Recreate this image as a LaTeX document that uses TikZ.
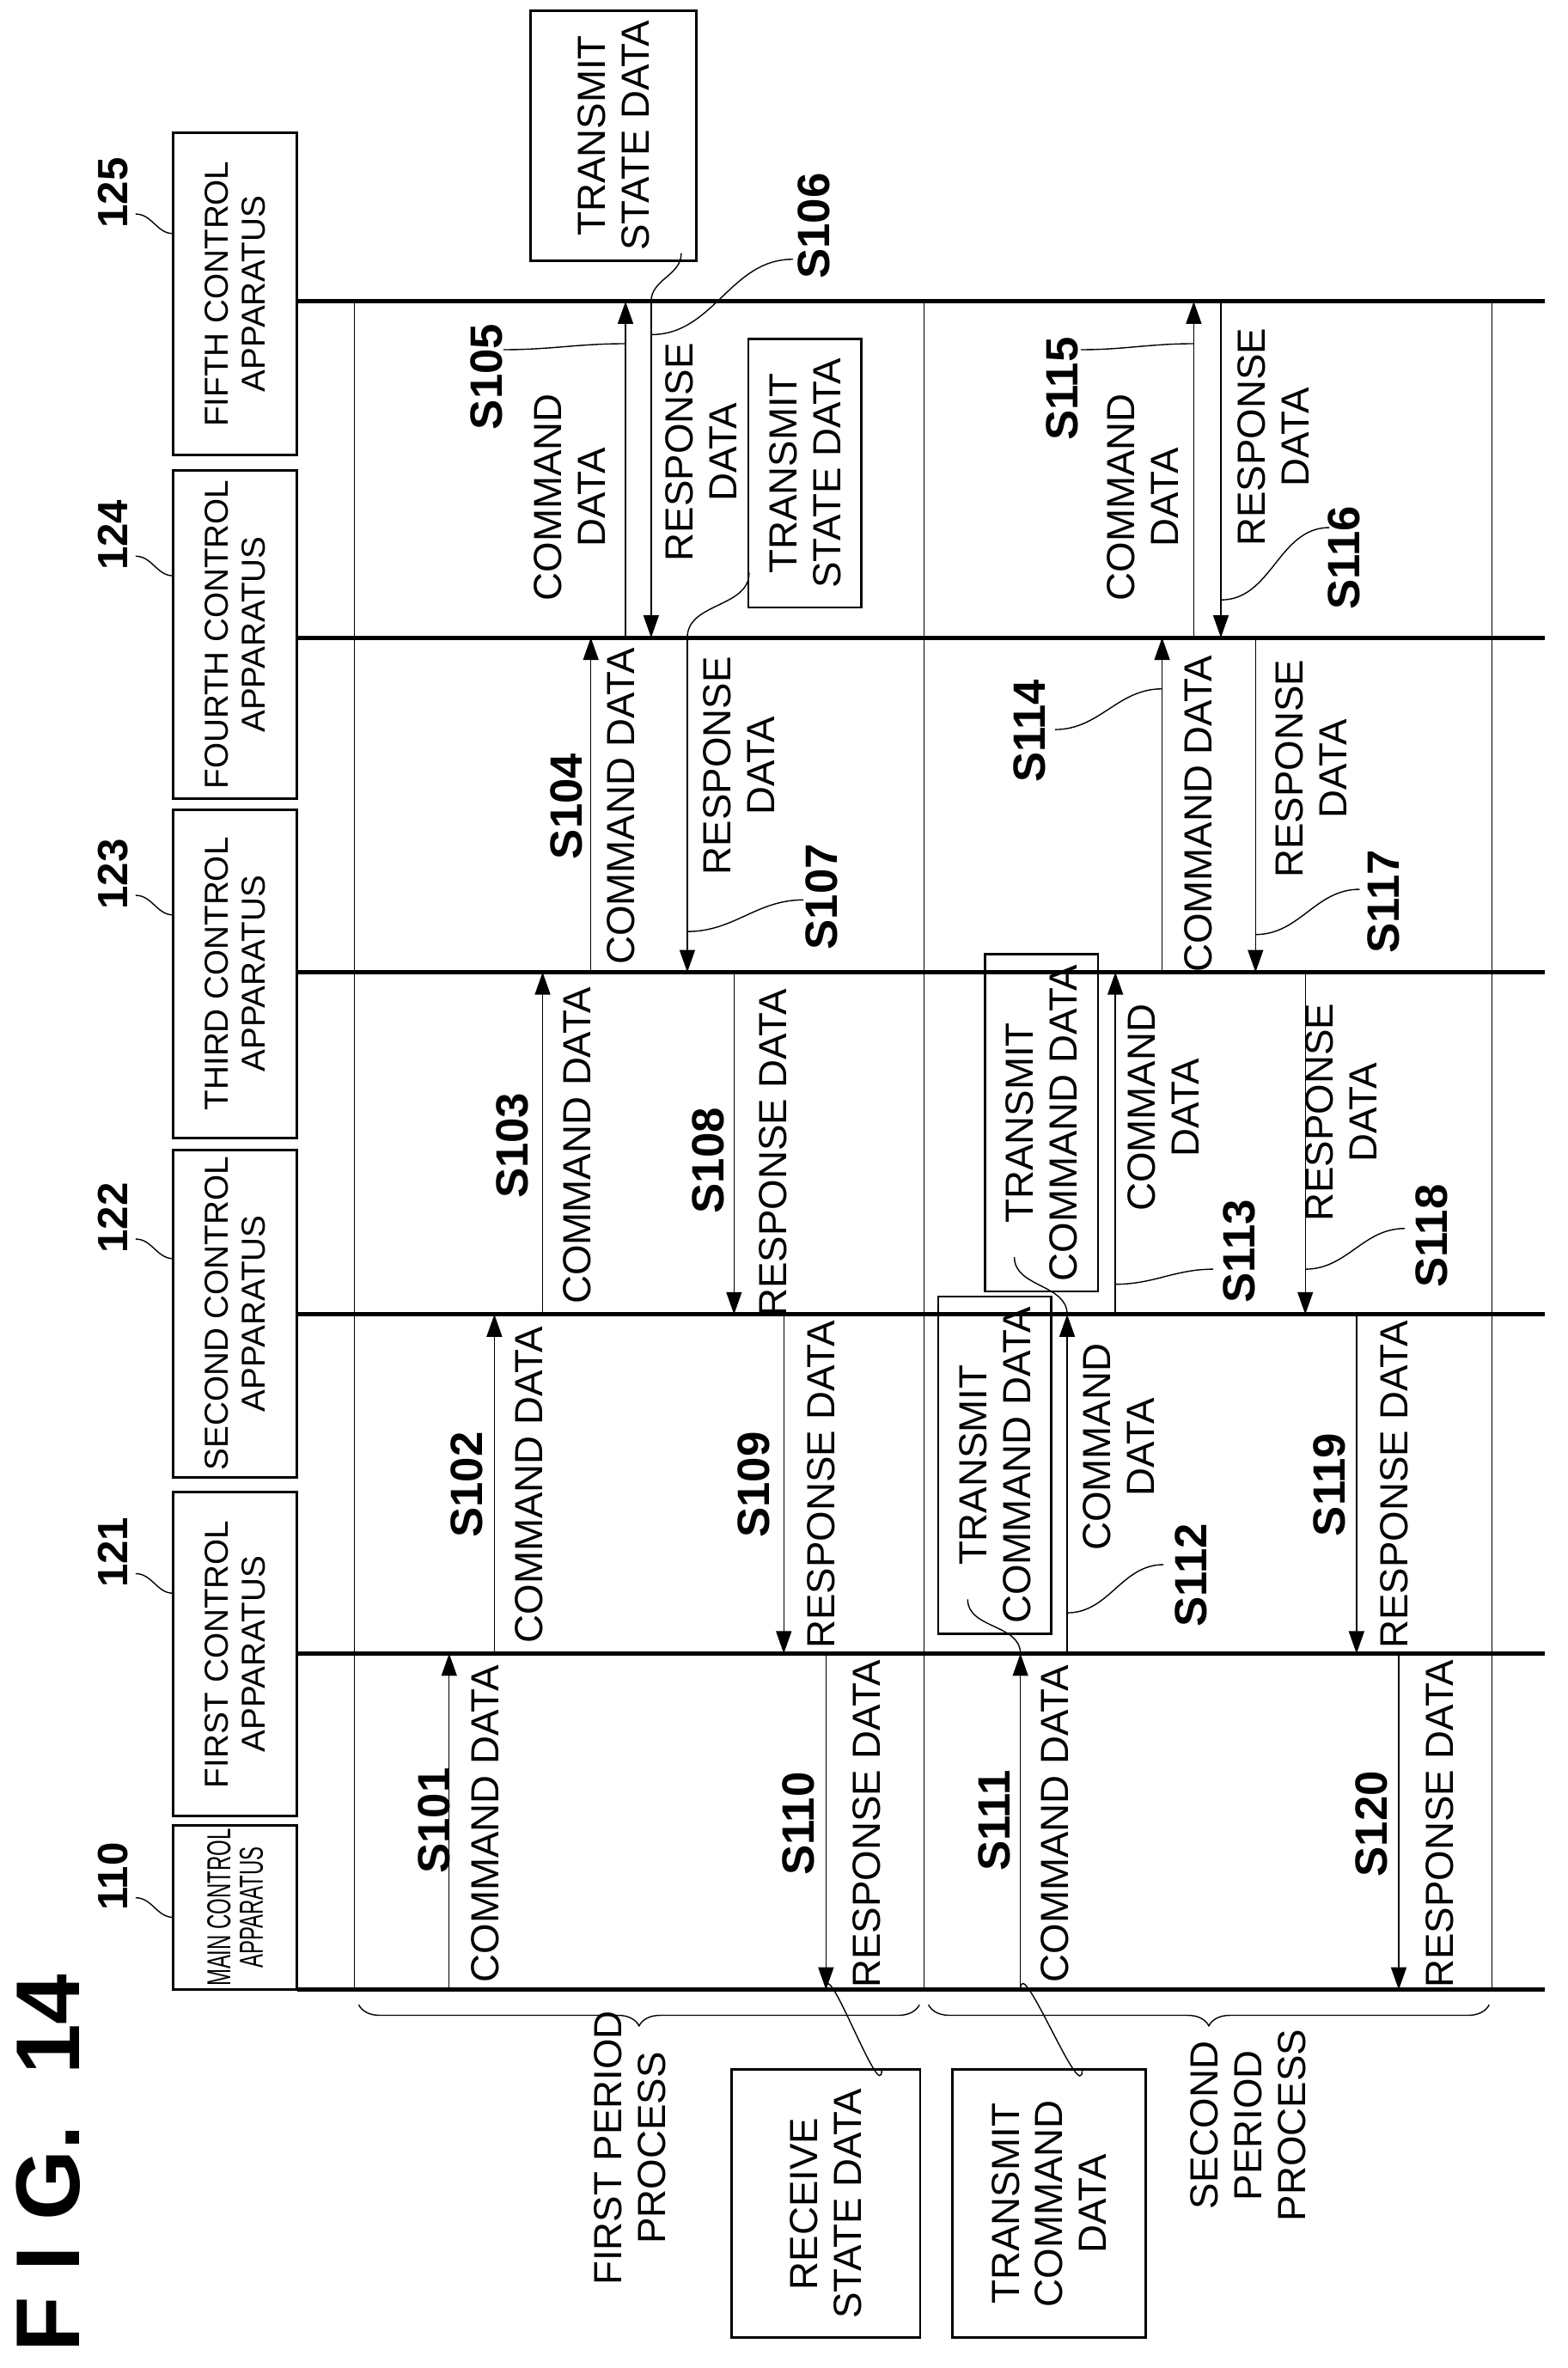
\documentclass[tikz,border=0pt]{standalone}
\usepackage{fontspec}
\setmainfont{Liberation Sans}
\usetikzlibrary{arrows.meta, decorations.pathreplacing}

\def\yF{200}
\def\yD{423}
\def\yC{645}
\def\yB{872}
\def\yA{1097}
\def\yM{1320}
\def\pu{0.49906pt}

\begin{document}
\begin{tikzpicture}[x=0.01754cm, y=-0.01754cm,
    apparatus/.style={draw, thick, rotate=90, minimum width=#1*\pu, minimum height=82*\pu, align=center, font=\fontsize{11}{12.5}\selectfont, inner sep=1pt},
    procbox/.style={draw, thick, rotate=90, align=center, font=\fontsize{13}{14.5}\selectfont},
    lbl/.style={rotate=90, align=center, font=\fontsize{13}{14.5}\selectfont},
    stp/.style={rotate=90, font=\bfseries\fontsize{15}{16}\selectfont},
    refnum/.style={rotate=90, font=\bfseries\fontsize{14}{15}\selectfont},
    msg/.style={-{Triangle[length=2.6mm,width=1.8mm]}, thin},
    leader/.style={thin}]
    \useasboundingbox (0,0) rectangle (1040,1571);

    % lifelines and period separators
    \foreach \yy in {\yF,\yD,\yC,\yB,\yA,\yM}
        \draw[line width=1.4pt] (197,\yy) -- (1025,\yy);
    \foreach \xx in {235,613,990}
        \draw[thin] (\xx,\yF) -- (\xx,\yM);

    % apparatus boxes
    \node[apparatus=105] (main) at (156,1265.5) {\scalebox{0.62}[1]{\shortstack{MAIN CONTROL\\APPARATUS}}};
    \node[apparatus=215] (first) at (156,1097.5) {FIRST CONTROL\\APPARATUS};
    \node[apparatus=217] (second) at (156,871.5) {SECOND CONTROL\\APPARATUS};
    \node[apparatus=218] (third) at (156,646) {THIRD CONTROL\\APPARATUS};
    \node[apparatus=218] (fourth) at (156,421) {FOURTH CONTROL\\APPARATUS};
    \node[apparatus=214] (fifth) at (156,195) {FIFTH CONTROL\\APPARATUS};

    \node[refnum] (r110) at (75,1245) {110};
    \node[refnum] (r121) at (75,1030) {121};
    \node[refnum] (r122) at (75,808) {122};
    \node[refnum] (r123) at (75,580) {123};
    \node[refnum] (r124) at (75,355) {124};
    \node[refnum] (r125) at (75,128) {125};
    \foreach \yy/\yb in {1245/1272,1030/1057,808/835,580/607,355/382,128/155}
        \draw[leader] (90,\yy+14) to[out=0,in=180] (115,\yb);

    % first period
    \draw[msg] (298,\yM) -- (298,\yA);
    \draw[msg] (328,\yA) -- (328,\yB);
    \draw[msg] (360,\yB) -- (360,\yC);
    \draw[msg] (392,\yC) -- (392,\yD);
    \draw[msg] (415,\yD) -- (415,\yF);
    \draw[msg] (432,\yF) -- (432,\yD);
    \draw[msg] (456,\yD) -- (456,\yC);
    \draw[msg] (487,\yC) -- (487,\yB);
    \draw[msg] (520,\yB) -- (520,\yA);
    \draw[msg] (548,\yA) -- (548,\yM);

    \node[stp] (s101) at (288,1208) {S101};
    \node[lbl] at (322,1210) {COMMAND DATA};
    \node[stp] (s102) at (310,985) {S102};
    \node[lbl] at (351,985) {COMMAND DATA};
    \node[stp] (s103) at (340,760) {S103};
    \node[lbl] at (383,760) {COMMAND DATA};
    \node[stp] (s104) at (376,535) {S104};
    \node[lbl] at (412,535) {COMMAND DATA};
    \node[stp] (s105) at (323,250) {S105};
    \node[lbl] at (378,330) {COMMAND\\DATA};
    \draw[leader] (334,232) to[out=0,in=180] (415,228);
    \node[stp] (s106) at (540,150) {S106};
    \node[lbl] at (465,300) {RESPONSE\\DATA};
    \draw[leader] (526,172) to[out=180,in=0] (432,222);
    \node[stp] (s107) at (545,595) {S107};
    \node[lbl] at (490,508) {RESPONSE\\DATA};
    \draw[leader] (533,597) to[out=180,in=0] (456,618);
    \node[stp] (s108) at (470,770) {S108};
    \node[lbl] at (513,765) {RESPONSE DATA};
    \node[stp] (s109) at (500,985) {S109};
    \node[lbl] at (545,985) {RESPONSE DATA};
    \node[stp] (s110) at (530,1210) {S110};
    \node[lbl] at (575,1210) {RESPONSE DATA};

    \node[procbox, minimum width=155*\pu, minimum height=110*\pu] (tsd1) at (407,90) {TRANSMIT\\STATE DATA};
    \draw[leader] (452,168) to[out=-90,in=90] (432,\yF);
    \node[procbox, minimum width=178*\pu, minimum height=75*\pu] (tsd2) at (534,314) {TRANSMIT\\STATE DATA};
    \draw[leader] (497,380) to[out=-90,in=90] (456,\yD);

    % second period
    \draw[msg] (677,\yM) -- (677,\yA);
    \draw[msg] (708,\yA) -- (708,\yB);
    \draw[msg] (740,\yB) -- (740,\yC);
    \draw[msg] (771,\yC) -- (771,\yD);
    \draw[msg] (792,\yD) -- (792,\yF);
    \draw[msg] (810,\yF) -- (810,\yD);
    \draw[msg] (833,\yD) -- (833,\yC);
    \draw[msg] (866,\yC) -- (866,\yB);
    \draw[msg] (900,\yB) -- (900,\yA);
    \draw[msg] (928,\yA) -- (928,\yM);

    \node[stp] (s111) at (660,1208) {S111};
    \node[lbl] at (700,1210) {COMMAND DATA};
    \node[procbox, minimum width=178*\pu, minimum height=75*\pu] (tcd1) at (660,972) {TRANSMIT\\COMMAND DATA};
    \draw[leader] (642,1061) to[out=-90,in=90] (677,\yA);
    \node[lbl] at (742,960) {COMMAND\\DATA};
    \node[stp] (s112) at (790,1045) {S112};
    \draw[leader] (772,1038) to[out=180,in=0] (708,1070);
    \node[procbox, minimum width=178*\pu, minimum height=75*\pu] (tcd2) at (691,745) {TRANSMIT\\COMMAND DATA};
    \draw[leader] (673,834) to[out=-90,in=90] (708,\yB);
    \node[lbl] at (772,735) {COMMAND\\DATA};
    \node[stp] (s113) at (822,830) {S113};
    \draw[leader] (805,842) to[out=180,in=0] (740,852);
    \node[stp] (s114) at (683,485) {S114};
    \draw[leader] (700,484) to[out=0,in=180] (771,457);
    \node[lbl] at (795,540) {COMMAND DATA};
    \node[stp] (s115) at (705,258) {S115};
    \node[lbl] at (758,330) {COMMAND\\DATA};
    \draw[leader] (717,232) to[out=0,in=180] (792,228);
    \node[stp] (s116) at (892,370) {S116};
    \node[lbl] at (845,290) {RESPONSE\\DATA};
    \draw[leader] (882,350) to[out=180,in=0] (810,398);
    \node[stp] (s117) at (918,598) {S117};
    \node[lbl] at (870,510) {RESPONSE\\DATA};
    \draw[leader] (902,590) to[out=180,in=0] (833,620);
    \node[stp] (s118) at (950,820) {S118};
    \node[lbl] at (890,738) {RESPONSE\\DATA};
    \draw[leader] (932,815) to[out=180,in=0] (866,842);
    \node[stp] (s119) at (882,985) {S119};
    \node[lbl] at (925,985) {RESPONSE DATA};
    \node[stp] (s120) at (910,1210) {S120};
    \node[lbl] at (955,1210) {RESPONSE DATA};

    % periods
    \draw[decorate, decoration={brace, amplitude=7pt, mirror}] (238,1330) -- (610,1330);
    \draw[decorate, decoration={brace, amplitude=7pt, mirror}] (616,1330) -- (988,1330);
    \node[lbl] (p1) at (418,1425) {FIRST PERIOD\\PROCESS};
    \node[lbl] (p2) at (828,1410) {SECOND\\PERIOD\\PROCESS};
    \node[procbox, minimum width=178*\pu, minimum height=125*\pu] (rsd) at (548,1462) {RECEIVE\\STATE DATA};
    \node[procbox, minimum width=178*\pu, minimum height=128*\pu] (tcd3) at (696,1462) {TRANSMIT\\COMMAND\\DATA};
    \draw[leader] (548,\yM) to[out=90,in=-90] (585,1373);
    \draw[leader] (677,\yM) to[out=90,in=-90] (718,1373);

    \node[rotate=90, font=\bfseries\fontsize{30}{32}\selectfont] (fig) at (32,1435) {F I G.\ \ 14};
\end{tikzpicture}
\end{document}
